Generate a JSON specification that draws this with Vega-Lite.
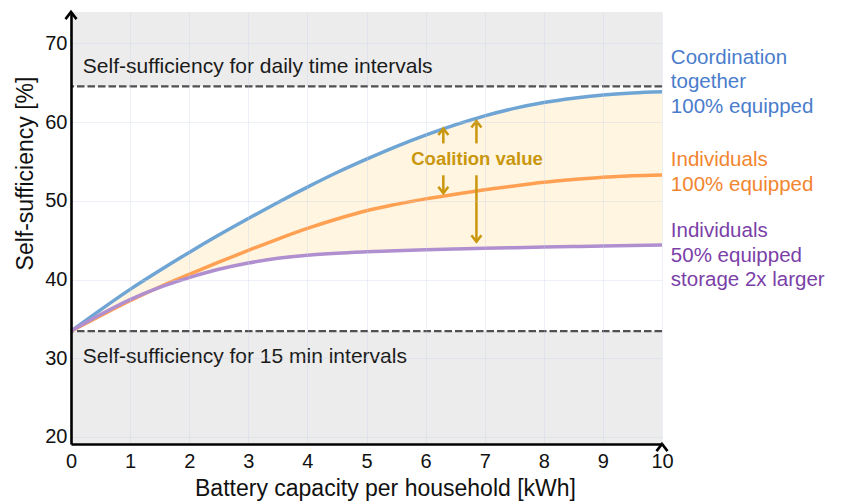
{
  "$schema": "https://vega.github.io/schema/vega-lite/v6.json",
  "width": 591,
  "height": 432,
  "autosize": {"type": "none"},
  "padding": {"left": 71, "top": 12, "right": 180, "bottom": 59},
  "background": "white",
  "config": {
    "view": {"stroke": null},
    "font": "Liberation Sans",
    "axis": {
      "grid": true,
      "gridColor": "#c5cde3",
      "gridOpacity": 0.3,
      "gridWidth": 1,
      "domainColor": "#000000",
      "domainWidth": 2.6,
      "ticks": false,
      "tickSize": 0,
      "labelFlush": false,
      "labelOverlap": false,
      "labelFontSize": 20,
      "labelColor": "#111111",
      "titleFontSize": 23,
      "titleFontWeight": "normal",
      "titleColor": "#111111"
    },
    "axisX": {"labelPadding": 7, "labelAngle": 0, "titleX": 314, "titleY": 51, "titleBaseline": "alphabetic", "titleAlign": "center"},
    "axisY": {"labelPadding": 4, "titleX": -46, "titleY": 161, "titleAngle": -90, "titleAlign": "center", "titleBaseline": "middle"}
  },
  "datasets": {
    "curves": [
      {"kwh": 0, "coord": 33.45, "indiv": 33.45, "half": 33.45},
      {"kwh": 0.5, "coord": 36.15, "indiv": 35.4, "half": 35.55},
      {"kwh": 1, "coord": 38.75, "indiv": 37.3, "half": 37.45},
      {"kwh": 1.5, "coord": 41.15, "indiv": 39.05, "half": 39.0},
      {"kwh": 2, "coord": 43.45, "indiv": 40.65, "half": 40.25},
      {"kwh": 2.5, "coord": 45.65, "indiv": 42.2, "half": 41.3},
      {"kwh": 3, "coord": 47.75, "indiv": 43.7, "half": 42.1},
      {"kwh": 3.5, "coord": 49.8, "indiv": 45.15, "half": 42.7},
      {"kwh": 4, "coord": 51.75, "indiv": 46.5, "half": 43.1},
      {"kwh": 4.5, "coord": 53.6, "indiv": 47.7, "half": 43.35},
      {"kwh": 5, "coord": 55.3, "indiv": 48.75, "half": 43.52},
      {"kwh": 5.5, "coord": 56.9, "indiv": 49.55, "half": 43.66},
      {"kwh": 6, "coord": 58.35, "indiv": 50.25, "half": 43.78},
      {"kwh": 6.5, "coord": 59.65, "indiv": 50.85, "half": 43.88},
      {"kwh": 7, "coord": 60.8, "indiv": 51.4, "half": 43.97},
      {"kwh": 7.5, "coord": 61.75, "indiv": 51.9, "half": 44.05},
      {"kwh": 8, "coord": 62.5, "indiv": 52.35, "half": 44.12},
      {"kwh": 8.5, "coord": 63.05, "indiv": 52.7, "half": 44.19},
      {"kwh": 9, "coord": 63.45, "indiv": 53.0, "half": 44.26},
      {"kwh": 9.5, "coord": 63.7, "indiv": 53.2, "half": 44.33},
      {"kwh": 10, "coord": 63.85, "indiv": 53.3, "half": 44.4}
    ],
    "bands": [
      {"lo": 19.1, "hi": 33.45},
      {"lo": 64.54, "hi": 74}
    ],
    "levels": [
      {"level": 64.54},
      {"level": 33.45}
    ],
    "bandText": [
      {"kwh": 0.2, "val": 66.99, "label": "Self-sufficiency for daily time intervals"},
      {"kwh": 0.2, "val": 30.11, "label": "Self-sufficiency for 15 min intervals"}
    ],
    "shafts": [
      {"kwh": 6.3, "from": 57.3, "to": 59.2},
      {"kwh": 6.3, "from": 53.25, "to": 50.96},
      {"kwh": 6.86, "from": 57.3, "to": 60.14},
      {"kwh": 6.86, "from": 53.25, "to": 44.8}
    ],
    "heads": [
      {"kwh": 6.3, "val": 59.2, "dir": "up"},
      {"kwh": 6.3, "val": 50.96, "dir": "down"},
      {"kwh": 6.86, "val": 60.14, "dir": "up"},
      {"kwh": 6.86, "val": 44.8, "dir": "down"}
    ],
    "axisHeads": [
      {"kwh": 0, "val": 74, "dir": "up"},
      {"kwh": 10, "val": 19.1, "dir": "right"}
    ],
    "coalition": [
      {"kwh": 6.87, "val": 55.3, "label": "Coalition value"}
    ],
    "seriesLabels": [
      {"kwh": 10.15, "val": 69.47, "series": "coord", "label": "Coordination\ntogether\n100% equipped"},
      {"kwh": 10.15, "val": 56.4, "series": "indiv", "label": "Individuals\n100% equipped"},
      {"kwh": 10.15, "val": 47.39, "series": "half", "label": "Individuals\n50% equipped\nstorage 2x larger"}
    ]
  },
  "layer": [
    {
      "data": {"name": "bands"},
      "mark": {"type": "rect", "color": "#ececec"},
      "encoding": {
        "x": {"datum": 0, "type": "quantitative", "scale": {"domain": [0, 10], "nice": false}, "axis": {"values": [0,1,2,3,4,5,6,7,8,9,10], "format": "d", "zindex": 1}, "title": "Battery capacity per household [kWh]"},
        "x2": {"datum": 10},
        "y": {"field": "lo", "type": "quantitative", "scale": {"domain": [19.1, 74], "nice": false, "zero": false}, "axis": {"values": [20,30,40,50,60,70], "format": "d", "zindex": 1}, "title": "Self-sufficiency [%]"},
        "y2": {"field": "hi"}
      }
    },
    {
      "data": {"name": "curves"},
      "mark": {"type": "area", "color": "#fff5e1", "interpolate": "monotone"},
      "encoding": {
        "x": {"field": "kwh", "type": "quantitative", "scale": {"domain": [0, 10], "nice": false}, "title": "Battery capacity per household [kWh]"},
        "y": {"field": "coord", "type": "quantitative", "scale": {"domain": [19.1, 74], "nice": false, "zero": false}, "title": "Self-sufficiency [%]"},
        "y2": {"field": "half"}
      }
    },
    {
      "data": {"name": "levels"},
      "mark": {"type": "rule", "color": "#505050", "strokeWidth": 2.3, "strokeDash": [7.5, 3]},
      "encoding": {
        "y": {"field": "level", "type": "quantitative", "scale": {"domain": [19.1, 74], "nice": false, "zero": false}, "title": "Self-sufficiency [%]"}
      }
    },
    {
      "data": {"name": "curves"},
      "mark": {"type": "line", "color": "#6fa5d4", "strokeWidth": 3.5, "interpolate": "monotone"},
      "encoding": {
        "x": {"field": "kwh", "type": "quantitative", "scale": {"domain": [0, 10], "nice": false}, "title": "Battery capacity per household [kWh]"},
        "y": {"field": "coord", "type": "quantitative", "scale": {"domain": [19.1, 74], "nice": false, "zero": false}, "title": "Self-sufficiency [%]"}
      }
    },
    {
      "data": {"name": "curves"},
      "mark": {"type": "line", "color": "#ffa052", "strokeWidth": 3.5, "interpolate": "monotone"},
      "encoding": {
        "x": {"field": "kwh", "type": "quantitative", "scale": {"domain": [0, 10], "nice": false}, "title": "Battery capacity per household [kWh]"},
        "y": {"field": "indiv", "type": "quantitative", "scale": {"domain": [19.1, 74], "nice": false, "zero": false}, "title": "Self-sufficiency [%]"}
      }
    },
    {
      "data": {"name": "curves"},
      "mark": {"type": "line", "color": "#b08fd0", "strokeWidth": 3.5, "interpolate": "monotone"},
      "encoding": {
        "x": {"field": "kwh", "type": "quantitative", "scale": {"domain": [0, 10], "nice": false}, "title": "Battery capacity per household [kWh]"},
        "y": {"field": "half", "type": "quantitative", "scale": {"domain": [19.1, 74], "nice": false, "zero": false}, "title": "Self-sufficiency [%]"}
      }
    },
    {
      "data": {"name": "bandText"},
      "mark": {"type": "text", "align": "left", "baseline": "middle", "fontSize": 21, "color": "#1a1a1a"},
      "encoding": {
        "x": {"field": "kwh", "type": "quantitative", "scale": {"domain": [0, 10], "nice": false}, "title": "Battery capacity per household [kWh]"},
        "y": {"field": "val", "type": "quantitative", "scale": {"domain": [19.1, 74], "nice": false, "zero": false}, "title": "Self-sufficiency [%]"},
        "text": {"field": "label"}
      }
    },
    {
      "data": {"name": "shafts"},
      "mark": {"type": "rule", "color": "#c9960c", "strokeWidth": 2.5},
      "encoding": {
        "x": {"field": "kwh", "type": "quantitative", "scale": {"domain": [0, 10], "nice": false}, "title": "Battery capacity per household [kWh]"},
        "y": {"field": "from", "type": "quantitative", "scale": {"domain": [19.1, 74], "nice": false, "zero": false}, "title": "Self-sufficiency [%]"},
        "y2": {"field": "to"}
      }
    },
    {
      "data": {"name": "heads"},
      "mark": {"type": "point", "filled": false, "stroke": "#c9960c", "strokeWidth": 2.5, "size": 100, "opacity": 1},
      "encoding": {
        "x": {"field": "kwh", "type": "quantitative", "scale": {"domain": [0, 10], "nice": false}, "title": "Battery capacity per household [kWh]"},
        "y": {"field": "val", "type": "quantitative", "scale": {"domain": [19.1, 74], "nice": false, "zero": false}, "title": "Self-sufficiency [%]"},
        "shape": {"field": "dir", "type": "nominal", "scale": {"domain": ["up", "down"], "range": ["M-1,1.3L0,0L1,1.3", "M-1,-1.3L0,0L1,-1.3"]}, "legend": null}
      }
    },
    {
      "data": {"name": "axisHeads"},
      "mark": {"type": "point", "filled": false, "stroke": "#000000", "strokeWidth": 2.6, "size": 121, "opacity": 1, "clip": false},
      "encoding": {
        "x": {"field": "kwh", "type": "quantitative", "scale": {"domain": [0, 10], "nice": false}, "title": "Battery capacity per household [kWh]"},
        "y": {"field": "val", "type": "quantitative", "scale": {"domain": [19.1, 74], "nice": false, "zero": false}, "title": "Self-sufficiency [%]"},
        "shape": {"field": "dir", "type": "nominal", "scale": {"domain": ["up", "right"], "range": ["M-1,1.2L0,0L1,1.2", "M-1.2,-1L0,0L-1.2,1"]}, "legend": null}
      }
    },
    {
      "data": {"name": "coalition"},
      "mark": {"type": "text", "align": "center", "baseline": "middle", "fontSize": 18.5, "fontWeight": "bold", "color": "#c9960c"},
      "encoding": {
        "x": {"field": "kwh", "type": "quantitative", "scale": {"domain": [0, 10], "nice": false}, "title": "Battery capacity per household [kWh]"},
        "y": {"field": "val", "type": "quantitative", "scale": {"domain": [19.1, 74], "nice": false, "zero": false}, "title": "Self-sufficiency [%]"},
        "text": {"field": "label"}
      }
    },
    {
      "data": {"name": "seriesLabels"},
      "mark": {"type": "text", "align": "left", "baseline": "top", "fontSize": 20.5, "lineBreak": "\n", "lineHeight": 24.5},
      "encoding": {
        "x": {"field": "kwh", "type": "quantitative", "scale": {"domain": [0, 10], "nice": false}, "title": "Battery capacity per household [kWh]"},
        "y": {"field": "val", "type": "quantitative", "scale": {"domain": [19.1, 74], "nice": false, "zero": false}, "title": "Self-sufficiency [%]"},
        "text": {"field": "label"},
        "color": {"field": "series", "type": "nominal", "scale": {"domain": ["coord", "indiv", "half"], "range": ["#4a7ccc", "#f2852f", "#7b3fa8"]}, "legend": null}
      }
    }
  ]
}
